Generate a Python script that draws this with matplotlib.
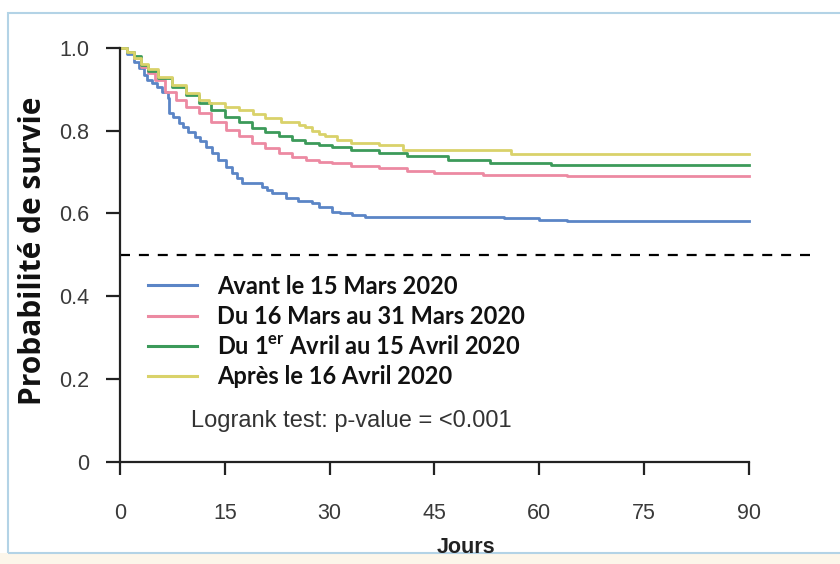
import matplotlib
matplotlib.use("Agg")
import matplotlib.pyplot as plt
from matplotlib.patches import Rectangle

plt.rcParams["mathtext.fontset"] = "custom"
plt.rcParams["mathtext.bf"] = "Lato:bold"
plt.rcParams["mathtext.rm"] = "Lato:bold"

# Kaplan-Meier step curves (day of event, survival probability after it)
avant_days = [0, 1, 2, 2.7, 3.5, 3.9, 4.6, 5.3, 6.0, 6.8, 7.0, 7.6, 8.4, 9.0, 9.8,
              10.8, 11.5, 12.3, 13.2, 14.0, 15.1, 16.0, 16.8, 17.5, 20.3, 21.0,
              21.8, 23.7, 25.5, 27.5, 28.5, 30.3, 31.5, 33.2, 35.0, 55.0, 60.0,
              64.0, 90]
avant_surv = [1.0, 0.985, 0.965, 0.951, 0.935, 0.923, 0.915, 0.905, 0.893, 0.880,
              0.843, 0.832, 0.818, 0.808, 0.798, 0.785, 0.775, 0.760, 0.746, 0.730,
              0.713, 0.698, 0.685, 0.673, 0.665, 0.657, 0.649, 0.637, 0.630, 0.625,
              0.615, 0.604, 0.600, 0.596, 0.592, 0.588, 0.585, 0.582, 0.582]

mars_days = [0, 1, 2, 3, 4, 5, 6.5, 8, 9.5, 11.3, 13, 15.1, 17, 18.9, 20.8, 22.7,
             24.6, 26.6, 28.5, 30.4, 33, 37, 41, 45, 52, 64, 90]
mars_surv = [1.0, 0.99, 0.975, 0.955, 0.94, 0.922, 0.894, 0.874, 0.858, 0.842,
             0.822, 0.802, 0.786, 0.770, 0.758, 0.746, 0.737, 0.729, 0.724, 0.721,
             0.715, 0.709, 0.703, 0.697, 0.694, 0.690, 0.690]

avril_days = [0, 1, 2, 3, 4, 5.5, 7.5, 9.5, 11.3, 13, 15, 17, 18.9, 20.8, 22.7,
              24.6, 26.5, 28.5, 30.4, 33, 37, 41, 47, 53, 61.6, 90]
avril_surv = [1.0, 0.99, 0.98, 0.96, 0.945, 0.928, 0.906, 0.886, 0.867, 0.85,
              0.834, 0.82, 0.806, 0.796, 0.786, 0.778, 0.770, 0.765, 0.761, 0.754,
              0.745, 0.740, 0.728, 0.722, 0.716, 0.716]

apres_days = [0, 1, 2, 3, 4, 5.5, 7.5, 9.5, 11.3, 12.7, 15, 17, 19, 20.8, 23,
              25.6, 26.5, 27.5, 28.5, 29.4, 31, 33, 37, 40.5, 56, 90]
apres_surv = [1.0, 0.99, 0.975, 0.962, 0.95, 0.93, 0.91, 0.89, 0.874, 0.868,
              0.858, 0.850, 0.840, 0.830, 0.822, 0.814, 0.808, 0.800, 0.792, 0.786,
              0.778, 0.770, 0.765, 0.754, 0.743, 0.743]

labels = ["Avant le 15 Mars 2020",
          "Du 16 Mars au 31 Mars 2020",
          r"Du 1$^{\mathbf{er}}$ Avril au 15 Avril 2020",
          "Après le 16 Avril 2020"]
colors = ["#5b85c6", "#ec8aa2", "#3c9a5a", "#d9d26a"]

x_ticks = [0, 15, 30, 45, 60, 75, 90]
y_ticks = [0, 0.2, 0.4, 0.6, 0.8, 1.0]
y_ticklabels = ["0", "0.2", "0.4", "0.6", "0.8", "1.0"]
median_level = 0.5

W, H = 840, 564
fig = plt.figure(figsize=(W / 100, H / 100), dpi=100)
fig.patch.set_facecolor("white")

# frame around the panel and pale strip along the bottom
fig.patches.append(Rectangle((0, 0), 1, 11 / H, transform=fig.transFigure,
                             facecolor="#fcf6ea", edgecolor="none", zorder=-10))
fig.patches.append(Rectangle((8 / W, 11 / H), 1.0, (H - 24) / H,
                             transform=fig.transFigure, facecolor="none",
                             edgecolor="#b3d3e6", linewidth=1.5, zorder=-10))

x_left, x_right = 120, 812
y_bottom, y_one = 461.5, 48
ppu = y_bottom - y_one
ytop = 1.02
xmax = 90 * (x_right - x_left) / (749 - x_left)
ax = fig.add_axes([x_left / W, (H - y_bottom) / H, (x_right - x_left) / W,
                   ppu * ytop / H])
ax.set_zorder(2)
ax.set_xlim(0, xmax)
ax.set_ylim(0, ytop)
ax.patch.set_alpha(0)

series = [(avant_days, avant_surv), (mars_days, mars_surv),
          (avril_days, avril_surv), (apres_days, apres_surv)]
handles = []
for (d, s), c, lab in zip(series, colors, labels):
    ln, = ax.step(d, s, where="post", color=c, linewidth=2.0, label=lab)
    handles.append(ln)

dash = ax.axhline(median_level, color="black", linewidth=1.6, zorder=1)
dash.set_dashes([4.5, 4.0])

for side in ("top", "right"):
    ax.spines[side].set_visible(False)
for side in ("left", "bottom"):
    ax.spines[side].set_linewidth(1.6)
    ax.spines[side].set_color("#222222")
ax.spines["left"].set_bounds(0, 1.0)
ax.spines["bottom"].set_bounds(0, 90)

ax.set_xticks(x_ticks)
ax.set_xticklabels([str(t) for t in x_ticks])
ax.set_yticks(y_ticks)
ax.set_yticklabels(y_ticklabels)
ax.tick_params(axis="both", direction="out", width=1.6, color="#222222",
               labelcolor="#3a3a3a", labelsize=15.5)
ax.tick_params(axis="y", length=10, pad=12)
ax.tick_params(axis="x", length=9, pad=21)
for t in ax.get_xticklabels() + ax.get_yticklabels():
    t.set_fontfamily("Liberation Sans")

ax.set_xlabel("Jours", fontsize=15.5, fontweight="bold", family="Liberation Sans",
              color="#222222", labelpad=9)
ax.set_ylabel("Probabilité de survie", fontsize=21.5, fontweight="bold",
              family="Open Sans", color="#111111", labelpad=8)

leg = ax.legend(handles=handles, loc="upper left",
                bbox_to_anchor=(148 / W, (H - 274.5) / H),
                bbox_transform=fig.transFigure, frameon=False,
                prop={"family": "Lato", "weight": "bold", "size": 17},
                handlelength=2.08, handletextpad=0.85, labelspacing=0.31,
                borderpad=0, borderaxespad=0)
for t in leg.get_texts():
    t.set_color("#111111")
for lh in leg.get_lines():
    lh.set_linewidth(2.2)

ax.text(191, H - 421.5, "Logrank test: p-value = <0.001", transform=None,
        fontsize=17, family="Liberation Sans", color="#333333",
        ha="left", va="center")

fig.savefig("out.png", dpi=100)
